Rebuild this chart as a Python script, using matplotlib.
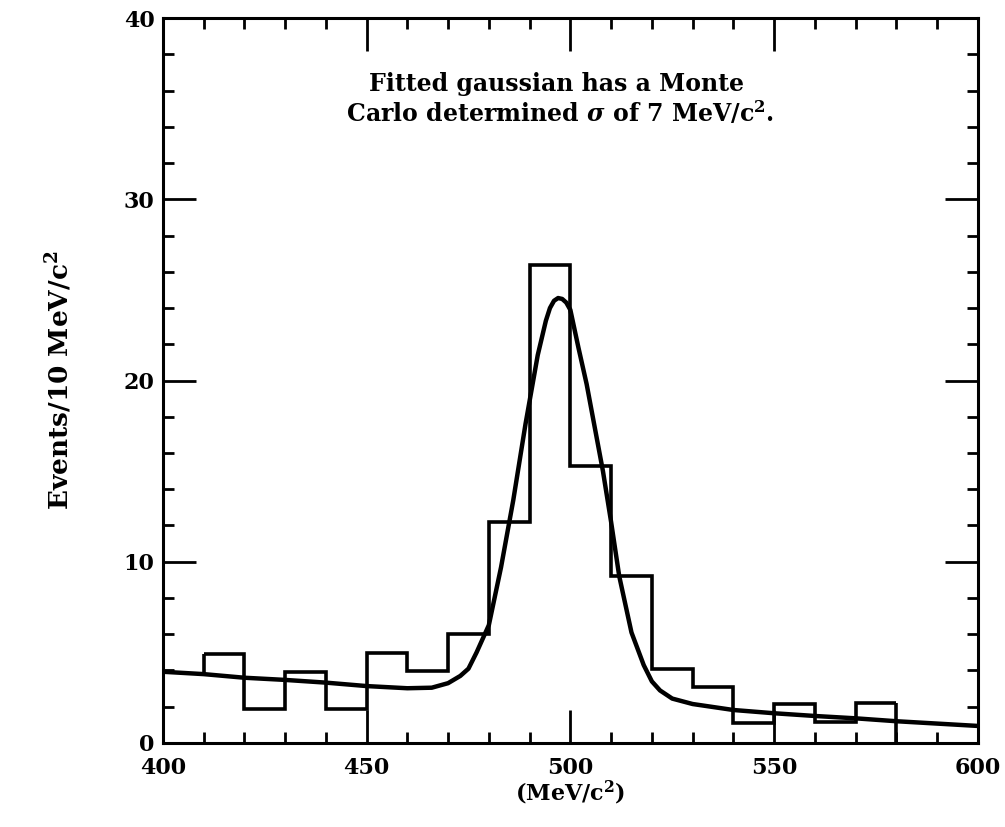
import numpy as np
import matplotlib.pyplot as plt
from matplotlib.ticker import MultipleLocator

plt.switch_backend('Agg')

# histogram (10 MeV bins, 410-580)
bin_edges = [410, 420, 430, 440, 450, 460, 470, 480, 490, 500,
             510, 520, 530, 540, 550, 560, 570, 580]
counts = [4.9, 1.9, 3.9, 1.9, 4.95, 3.95, 6.0, 12.2, 26.4, 15.3,
          9.2, 4.1, 3.1, 1.1, 2.15, 1.15, 2.2]

# fitted curve
curve_x = [400, 410, 420, 430, 440, 450, 460, 466, 470, 473, 475, 477, 480,
           483, 486, 489, 492, 494, 495, 496, 497, 498, 499, 500, 502, 504,
           506, 508, 510, 512, 515, 518, 520, 522, 525, 530, 540, 550, 560,
           570, 580, 590, 600]
curve_y = [3.93, 3.8, 3.6, 3.48, 3.33, 3.14, 3.02, 3.05, 3.3, 3.7, 4.1, 5.0,
           6.5, 9.7, 13.4, 17.6, 21.4, 23.3, 24.0, 24.4, 24.55, 24.5, 24.3,
           23.9, 21.8, 19.8, 17.4, 15.0, 12.2, 9.2, 6.1, 4.3, 3.4, 2.9, 2.45,
           2.15, 1.82, 1.64, 1.49, 1.36, 1.2, 1.07, 0.94]

plt.rcParams['font.family'] = ['DejaVu Serif']
plt.rcParams['font.weight'] = 'bold'
plt.rcParams['mathtext.fontset'] = 'dejavuserif'

fig = plt.figure(figsize=(10.05, 8.27), dpi=100)
ax = fig.add_axes([0.162, 0.1016, 0.811, 0.8766])

ax.stairs(counts, bin_edges, baseline=None, color='black', linewidth=2.6)
# closing edges of the histogram
ax.vlines(bin_edges[0], curve_y[1], counts[0], color='black', linewidth=2.6)
ax.vlines(bin_edges[-1], 0, counts[-1], color='black', linewidth=2.6)
ax.plot(curve_x, curve_y, color='black', linewidth=3.2, solid_capstyle='round')

ax.set_xlim(400, 600)
ax.set_ylim(0, 40)

ax.xaxis.set_major_locator(MultipleLocator(50))
ax.xaxis.set_minor_locator(MultipleLocator(10))
ax.yaxis.set_major_locator(MultipleLocator(10))
ax.yaxis.set_minor_locator(MultipleLocator(2))
ax.tick_params(which='both', direction='in', top=True, right=True,
               width=2.0, labelsize=16)
ax.tick_params(axis='x', pad=10)
ax.tick_params(axis='y', pad=6)
ax.tick_params(which='major', length=24)
ax.tick_params(which='minor', length=8)
for lab in ax.get_xticklabels() + ax.get_yticklabels():
    lab.set_fontweight('bold')
for s in ax.spines.values():
    s.set_linewidth(2.2)

ax.set_xlabel(r'(MeV/c$^\mathbf{2}$)', fontsize=16, fontweight='bold', labelpad=0)
ax.set_ylabel(r'Events/10 MeV/c$^\mathbf{2}$', fontsize=19, fontweight='bold', labelpad=36)

ax.text(0.483, 0.888, 'Fitted gaussian has a Monte\n'
        r' Carlo determined $\sigma$ of 7 MeV/c$^\mathbf{2}$.',
        transform=ax.transAxes, ha='center', va='center', fontsize=17,
        fontweight='bold', linespacing=1.15)

fig.savefig('out.png', dpi=100)
